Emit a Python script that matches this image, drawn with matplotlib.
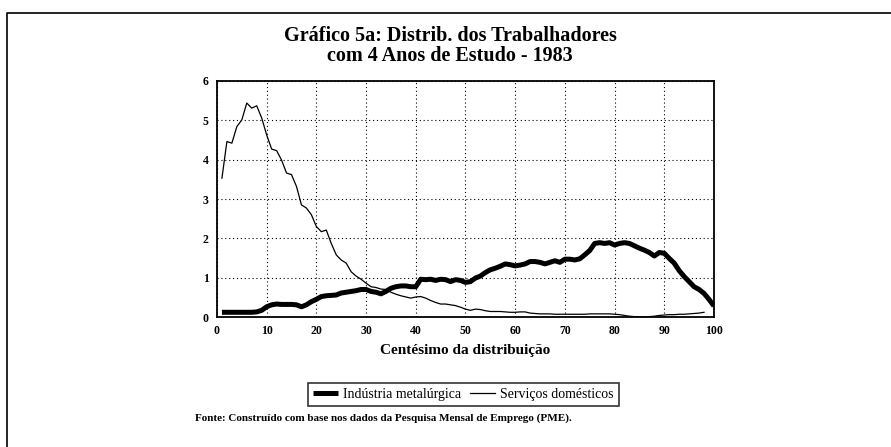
import matplotlib
matplotlib.use("Agg")
import matplotlib.pyplot as plt
from matplotlib.lines import Line2D

# centésimos da distribuição
centis = list(range(1, 101))

# Indústria metalúrgica (linha grossa)
industria = [0.12, 0.12, 0.12, 0.12, 0.12, 0.12, 0.12, 0.13, 0.17, 0.26,
             0.31, 0.33, 0.32, 0.32, 0.32, 0.31, 0.26, 0.31, 0.39, 0.45,
             0.52, 0.54, 0.55, 0.56, 0.61, 0.63, 0.65, 0.67, 0.70, 0.70,
             0.65, 0.63, 0.59, 0.65, 0.73, 0.77, 0.79, 0.79, 0.77, 0.77,
             0.96, 0.95, 0.96, 0.93, 0.96, 0.95, 0.90, 0.95, 0.93, 0.88,
             0.90, 0.99, 1.04, 1.13, 1.20, 1.24, 1.29, 1.35, 1.33, 1.30,
             1.32, 1.35, 1.41, 1.41, 1.39, 1.35, 1.39, 1.43, 1.39, 1.47,
             1.47, 1.45, 1.48, 1.58, 1.69, 1.87, 1.89, 1.87, 1.89, 1.83,
             1.87, 1.89, 1.87, 1.81, 1.75, 1.70, 1.64, 1.55, 1.64, 1.62,
             1.49, 1.37, 1.18, 1.03, 0.90, 0.77, 0.70, 0.60, 0.45, 0.28]

# Serviços domésticos (linha fina)
servicos = [3.53, 4.46, 4.42, 4.84, 5.01, 5.44, 5.31, 5.37, 5.06, 4.63,
            4.27, 4.23, 3.99, 3.66, 3.62, 3.32, 2.85, 2.77, 2.60, 2.30,
            2.17, 2.21, 1.87, 1.58, 1.45, 1.37, 1.15, 1.04, 0.96, 0.86,
            0.77, 0.75, 0.71, 0.70, 0.63, 0.58, 0.54, 0.51, 0.48, 0.51,
            0.52, 0.48, 0.42, 0.37, 0.33, 0.33, 0.31, 0.29, 0.25, 0.20,
            0.17, 0.20, 0.19, 0.16, 0.14, 0.14, 0.14, 0.13, 0.12, 0.12,
            0.13, 0.13, 0.10, 0.09, 0.08, 0.08, 0.08, 0.07, 0.07, 0.07,
            0.07, 0.07, 0.07, 0.07, 0.08, 0.08, 0.08, 0.08, 0.08, 0.07,
            0.06, 0.04, 0.02, 0.01, 0.00, 0.00, 0.01, 0.02, 0.04, 0.05,
            0.06, 0.06, 0.07, 0.07, 0.08, 0.09, 0.10, 0.12]

xticks = [0, 10, 20, 30, 40, 50, 60, 70, 80, 90, 100]
yticks = [0, 1, 2, 3, 4, 5, 6]

serif = "Liberation Serif"

fig = plt.figure(figsize=(8.91, 4.47), dpi=100)
ax = fig.add_axes([0.2435, 0.2908, 0.5578, 0.528])

ax.plot(centis, industria, color="black", lw=3.6, solid_capstyle="butt",
        label="Indústria metalúrgica")
ax.plot(centis[:len(servicos)], servicos, color="black", lw=0.9,
        label="Serviços domésticos")

ax.set_xlim(0, 100)
ax.set_ylim(0, 6)
ax.set_xticks(xticks)
ax.set_yticks(yticks)
ax.grid(True, color="black", linestyle=(0, (1, 2.5)), lw=0.8)
ax.tick_params(length=0, pad=6)
for lab in ax.get_xticklabels() + ax.get_yticklabels():
    lab.set_fontfamily(serif)
    lab.set_fontweight("bold")
    lab.set_fontsize(8.5)
for s in ax.spines.values():
    s.set_linewidth(1.3)

ax.set_xlabel("Centésimo da distribuição", fontfamily=serif,
              fontweight="bold", fontsize=11, labelpad=5)

fig.text(0.505, 0.920, "Gráfico 5a: Distrib. dos Trabalhadores",
         ha="center", va="center", fontfamily=serif, fontweight="bold",
         fontsize=14.5)
fig.text(0.505, 0.875, "com 4 Anos de Estudo - 1983",
         ha="center", va="center", fontfamily=serif, fontweight="bold",
         fontsize=14.5)

leg = fig.legend(loc="center", bbox_to_anchor=(0.52, 0.117), ncol=2,
                 frameon=True, fancybox=False, handlelength=1.8,
                 handletextpad=0.4, columnspacing=0.6, borderpad=0.35,
                 prop={"family": serif, "size": 10})
leg.get_frame().set_edgecolor("black")
leg.get_frame().set_linewidth(1.2)

fig.text(0.219, 0.065,
         "Fonte: Construído com base nos dados da Pesquisa Mensal de Emprego (PME).",
         ha="left", va="center", fontfamily=serif, fontweight="bold",
         fontsize=8)

# moldura da página
fig.add_artist(Line2D([0.008, 0.008, 1.0], [0.0, 0.971, 0.971],
                      transform=fig.transFigure, color="black", lw=1.2))

fig.savefig("out.png", dpi=100)
